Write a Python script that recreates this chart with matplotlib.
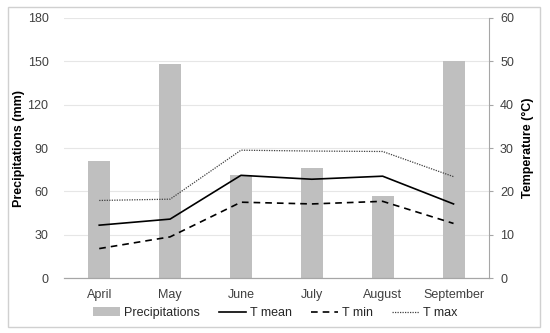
import numpy as np
import matplotlib.pyplot as plt
from matplotlib.patches import Rectangle

plt.rcParams['font.family'] = ['Liberation Sans', 'DejaVu Sans']

# datos
months = ['April', 'May', 'June', 'July', 'August', 'September']
precip = [81, 148, 71, 76, 57, 150]
t_mean = [12.2, 13.6, 23.7, 22.8, 23.5, 17.1]
t_min = [6.8, 9.5, 17.5, 17.1, 17.7, 12.6]
t_max = [17.9, 18.2, 29.5, 29.3, 29.2, 23.4]

x = np.arange(len(months))
grey = '#a6a6a6'

fig = plt.figure(figsize=(5.5, 3.33), dpi=100)
ax = fig.add_axes([0.116, 0.165, 0.773, 0.781])
ax2 = ax.twinx()

ax.bar(x, precip, width=0.31, color='#bfbfbf', label='Precipitations', zorder=2)
ax.set_ylim(0, 180)
ax.set_yticks(np.arange(0, 181, 30))
ax.set_xlim(-0.5, 5.5)
ax.set_xticks(x)
ax.set_xticklabels(months)
ax.grid(axis='y', color='#e6e6e6', lw=0.8, zorder=0)
ax.set_axisbelow(True)

ax2.plot(x, t_mean, color='black', lw=1.2, label='T mean')
ax2.plot(x, t_min, color='black', lw=1.2, ls=(0, (4, 3)), label='T min')
ax2.plot(x, t_max, color='#404040', lw=0.9, ls=(0, (1, 1)), label='T max')
ax2.set_ylim(0, 60)
ax2.set_yticks(np.arange(0, 61, 10))

for a in (ax, ax2):
    a.spines['top'].set_visible(False)
    a.spines['left'].set_visible(False)
    a.spines['right'].set_visible(False)
    a.spines['bottom'].set_color(grey)
    a.tick_params(labelsize=9, colors='#404040', length=0)
ax2.spines['right'].set_visible(True)
ax2.spines['right'].set_color(grey)
ax2.tick_params(axis='y', length=3, color=grey, pad=5)
ax.tick_params(axis='y', pad=11)
ax.tick_params(axis='x', pad=8)

ax.set_ylabel('Precipitations (mm)', fontsize=9, fontweight='bold', labelpad=2)
ax2.set_ylabel('Temperature (°C)', fontsize=9, fontweight='bold', labelpad=6)

h1, l1 = ax.get_legend_handles_labels()
h2, l2 = ax2.get_legend_handles_labels()
fig.legend(h1 + h2, l1 + l2, loc='center', bbox_to_anchor=(0.5, 0.06), ncol=4,
           frameon=False, fontsize=9, handlelength=2.2, handletextpad=0.3,
           columnspacing=1.5, labelcolor='#262626')

fig.patches.append(Rectangle((0.015, 0.018), 0.967, 0.96, transform=fig.transFigure,
                             fill=False, edgecolor='#d0d0d0', lw=1))

fig.savefig('out.png', dpi=100)
